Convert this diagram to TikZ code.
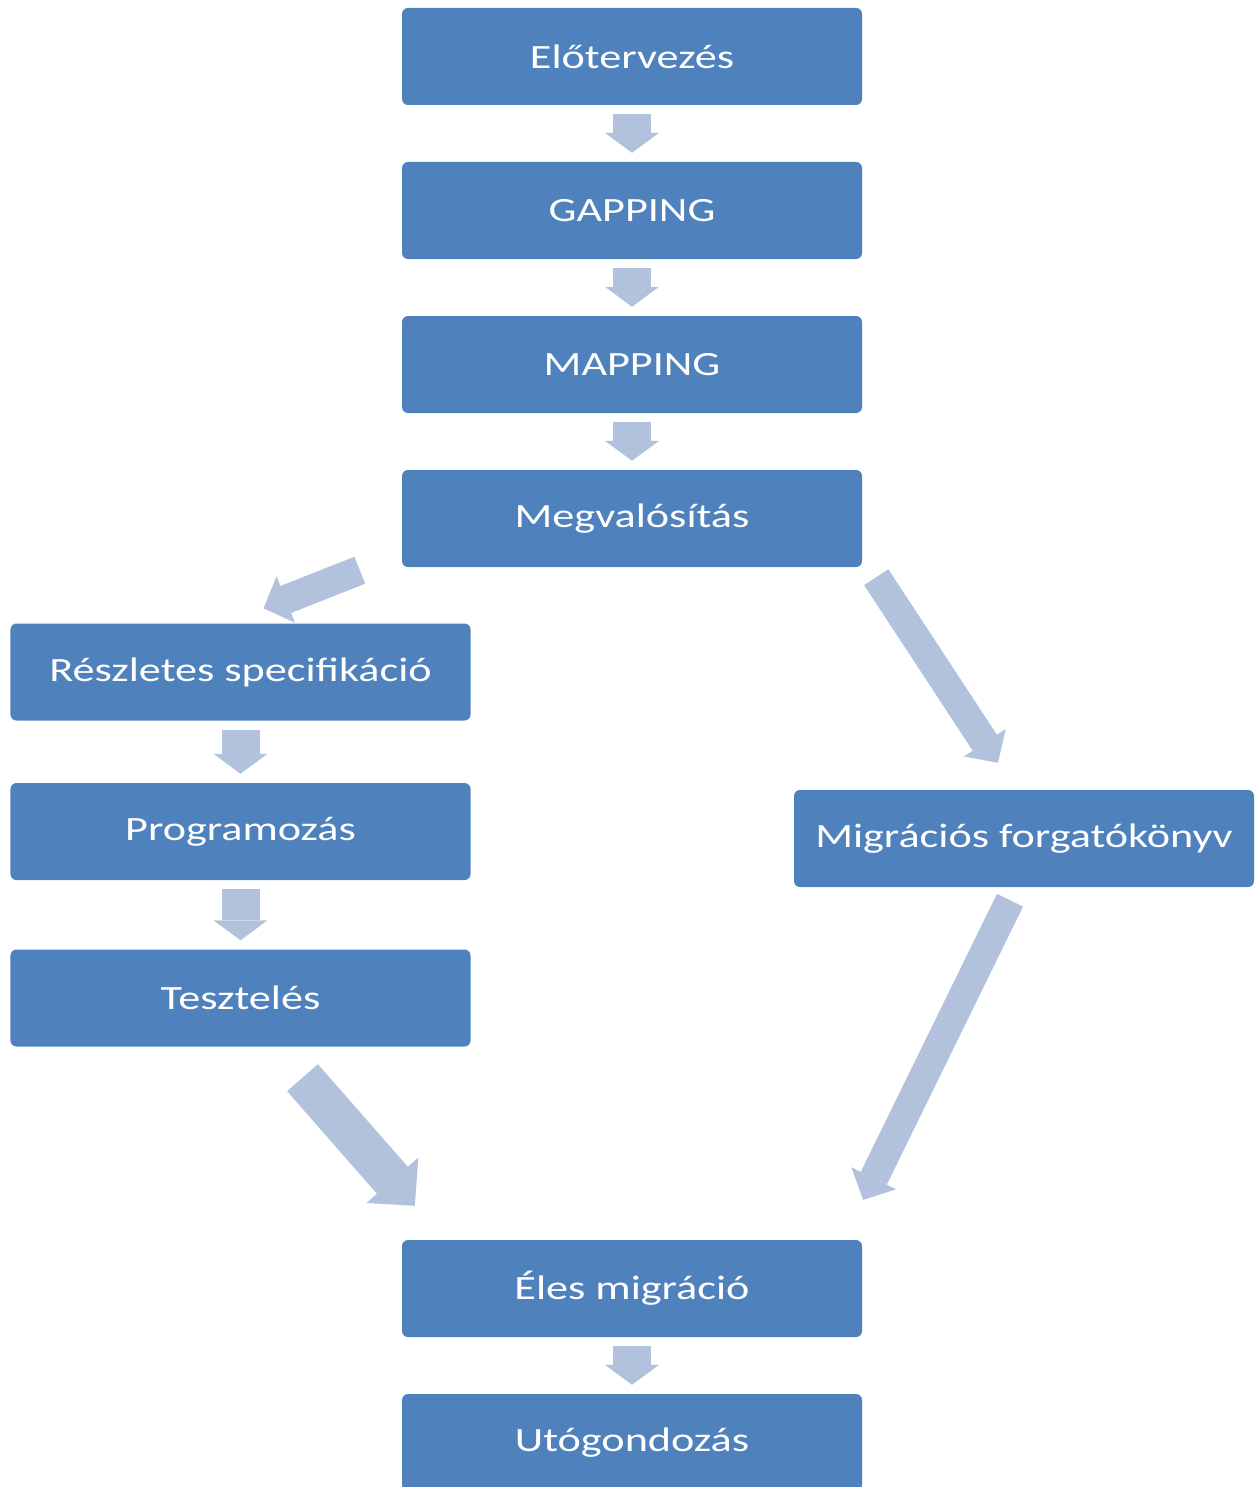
\documentclass[tikz,border=0pt]{standalone}
\usepackage{fontspec}
\setmainfont{Carlito}[FakeStretch=1.3]
\usetikzlibrary{arrows.meta, calc}
\definecolor{dobozkek}{RGB}{79,129,189}
\definecolor{nyilkek}{RGB}{178,193,220}
\tikzset{
  doboz/.style={fill=dobozkek, text=white, rounded corners=6bp, minimum width=460bp,
    minimum height=97bp, inner sep=0pt, font=\fontsize{34bp}{40bp}\selectfont},
  lefele/.style={draw=nyilkek, line width=38bp, shorten <=9bp, shorten >=9bp,
    -{Triangle[width=54bp, length=20bp, line width=0pt]}},
  ferde/.style={draw=nyilkek, line width=29bp,
    -{Triangle[width=50bp, length=24bp, line width=0pt]}},
  vastag/.style={draw=nyilkek, line width=41bp,
    -{Triangle[width=69bp, length=34bp, line width=0pt]}}
}
\begin{document}
\begin{tikzpicture}[x=1bp, y=-1bp]
  \useasboundingbox (0,0) rectangle (1255,1487);
  % fo oszlop
  \node[doboz] (elo) at (632,56.5) {Előtervezés};
  \node[doboz] (gap) at (632,210.5) {GAPPING};
  \node[doboz] (map) at (632,364.5) {MAPPING};
  \node[doboz] (megval) at (632,518.5) {Megvalósítás};
  % bal oszlop
  \node[doboz] (reszl) at (240.5,672) {Részletes specifikáció};
  \node[doboz] (prog) at (240.5,831.5) {Programozás};
  \node[doboz] (teszt) at (240.5,998) {Tesztelés};
  % jobb oldal
  \node[doboz] (migr) at (1024,838.5) {Migrációs forgatókönyv};
  % alul
  \node[doboz] (eles) at (632,1288.5) {Éles migráció};
  \node[doboz] (uto) at (632,1442.5) {Utógondozás};

  \foreach \a/\b in {elo/gap, gap/map, map/megval, reszl/prog, prog/teszt, eles/uto}
    \draw[lefele] (\a.south) -- (\b.north);

  \draw[ferde] ($(megval.south west)+(-42,3)$) -- ($(reszl.north)+(23,-15)$);
  \draw[ferde] ($(megval.south east)+(14,10)$) -- ($(migr.north)+(-26,-27)$);
  \draw[vastag] ($(teszt.south)+(62,31)$) -- ($(eles.north west)+(13,-34)$);
  \draw[ferde] ($(migr.south)+(-14,13)$) -- ($(eles.north east)+(1,-40)$);
\end{tikzpicture}
\end{document}
